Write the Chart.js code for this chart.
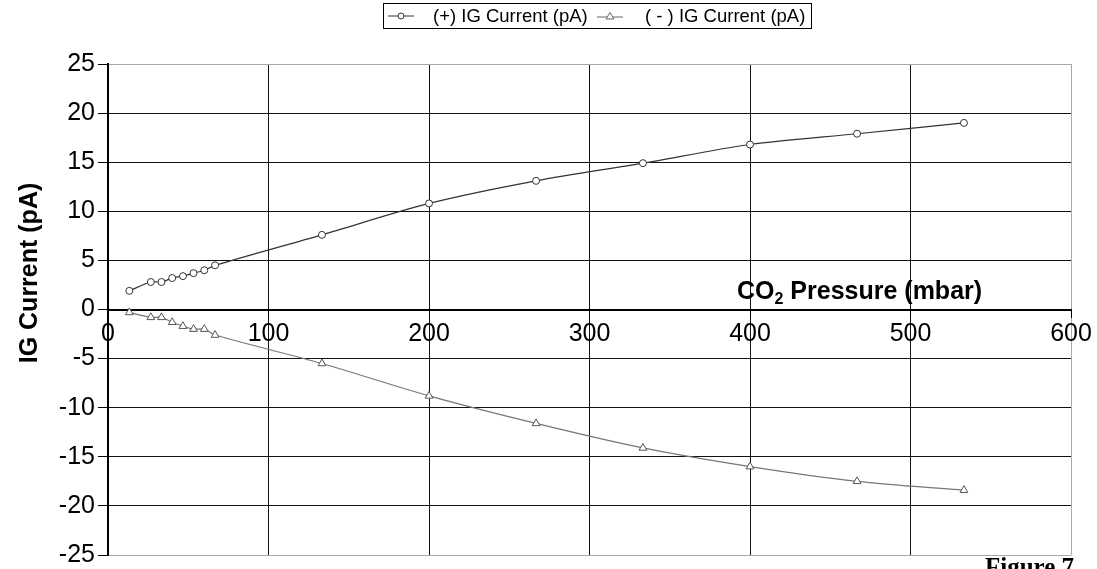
<!DOCTYPE html>
<html>
<head>
<meta charset="utf-8">
<script src="https://cdn.jsdelivr.net/npm/chart.js@4.4.1/dist/chart.umd.min.js"></script>
<style>
  body { margin: 0; background: #fff; }
  #wrap { position: relative; width: 1097px; height: 569px; overflow: hidden; }
  #legend {
    position: absolute; left: 383px; top: 3px; width: 427px; height: 24px;
    border: 1px solid #000; font-family: Arial, "Liberation Sans", sans-serif;
    font-size: 18.5px; line-height: 24px; white-space: nowrap; color: #000;
  }
  #legend span { position: absolute; top: 0; }
  #legend svg { position: absolute; top: 6px; }
</style>
</head>
<body>
<div id="wrap">
  <canvas id="chart" width="1097" height="569"></canvas>
  <div id="legend">
    <svg style="left:4px" width="26" height="12"><line x1="0" y1="6" x2="26" y2="6" stroke="#333" stroke-width="1"/><circle cx="13" cy="6" r="3" fill="#fff" stroke="#333"/></svg>
    <span style="left:49px">(+) IG Current (pA)</span>
    <svg style="left:213px" width="26" height="12"><line x1="0" y1="7" x2="26" y2="7" stroke="#666" stroke-width="1"/><path d="M13 2.5 L17 9 L9 9 Z" fill="#fff" stroke="#666"/></svg>
    <span style="left:261px">( - ) IG Current (pA)</span>
  </div>
</div>
<script>
// CO2 pressure (mbar)
const pressure = [13.3, 26.7, 33.3, 40, 46.7, 53.3, 60, 66.7, 133.3, 200, 266.7, 333.3, 400, 466.7, 533.3];
// ion gauge currents (pA)
const plusCurrent = [1.9, 2.8, 2.8, 3.2, 3.4, 3.7, 4.0, 4.5, 7.6, 10.8, 13.1, 14.9, 16.8, 17.9, 19.0];
const minusCurrent = [-0.3, -0.8, -0.8, -1.3, -1.7, -2.0, -2.0, -2.6, -5.5, -8.8, -11.6, -14.1, -16.0, -17.5, -18.4];

const seriesNames = ["(+) IG Current (pA)", "( - ) IG Current (pA)"];
const yTitle = "IG Current (pA)";
const figureLabel = "Figure 7";

const toPoints = (ys) => pressure.map((x, i) => ({ x: x, y: ys[i] }));

// extra titles drawn on the canvas
const titlesPlugin = {
  id: "titles",
  afterDraw(chart) {
    const ctx = chart.ctx;
    ctx.save();
    ctx.fillStyle = "#000";
    // y axis title
    ctx.translate(30, 273);
    ctx.rotate(-Math.PI / 2);
    ctx.font = "bold 25px Arial, 'Liberation Sans', sans-serif";
    ctx.textAlign = "center";
    ctx.textBaseline = "middle";
    ctx.fillText(yTitle, 0, 0);
    ctx.restore();

    // x axis title with subscript
    ctx.save();
    ctx.fillStyle = "#000";
    ctx.textBaseline = "alphabetic";
    let x = 737;
    const base = 299;
    ctx.font = "bold 25px Arial, 'Liberation Sans', sans-serif";
    ctx.fillText("CO", x, base);
    x += ctx.measureText("CO").width;
    ctx.font = "bold 16px Arial, 'Liberation Sans', sans-serif";
    ctx.fillText("2", x, base + 5);
    x += ctx.measureText("2").width;
    ctx.font = "bold 25px Arial, 'Liberation Sans', sans-serif";
    ctx.fillText(" Pressure (mbar)", x, base);

    // figure label
    ctx.font = "bold 25px 'Times New Roman', 'Liberation Serif', serif";
    ctx.fillText(figureLabel, 985, 575);
    ctx.restore();
  }
};

new Chart(document.getElementById("chart"), {
  type: "line",
  data: {
    datasets: [
      {
        label: seriesNames[0],
        data: toPoints(plusCurrent),
        borderColor: "#333",
        borderWidth: 1.2,
        pointStyle: "circle",
        pointRadius: 3.5,
        pointBackgroundColor: "#fff",
        pointBorderColor: "#333",
        pointBorderWidth: 1,
        tension: 0.3,
      },
      {
        label: seriesNames[1],
        data: toPoints(minusCurrent),
        borderColor: "#777",
        borderWidth: 1.2,
        pointStyle: "triangle",
        pointRadius: 4.5,
        pointBackgroundColor: "#fff",
        pointBorderColor: "#555",
        pointBorderWidth: 1,
        tension: 0.3,
      },
    ],
  },
  options: {
    responsive: false,
    animation: false,
    layout: { padding: { left: 0, top: 64, right: 26, bottom: 14 } },
    plugins: { legend: { display: false }, tooltip: { enabled: false } },
    scales: {
      x: {
        type: "linear",
        position: { y: 0 },
        min: 0,
        max: 600,
        ticks: {
          stepSize: 100,
          color: "#000",
          padding: 3,
          maxRotation: 0,
          font: { family: "Arial, 'Liberation Sans', sans-serif", size: 25 },
        },
        grid: {
          color: (c) => (c.tick && c.tick.value === 600 ? "#a8a8a8" : "#111"),
          lineWidth: 1,
          tickLength: 7,
          tickColor: "#000",
        },
        border: { display: true, color: "#000", width: 2 },
      },
      y: {
        min: -25,
        max: 25,
        afterFit: (scale) => {
          scale.width = 108;
          scale.paddingTop = 0;
          scale.paddingBottom = 0;
        },
        ticks: {
          stepSize: 5,
          color: "#000",
          padding: 3,
          font: { family: "Arial, 'Liberation Sans', sans-serif", size: 25 },
        },
        grid: {
          color: (c) => (c.tick && Math.abs(c.tick.value) === 25 ? "#a8a8a8" : "#111"),
          lineWidth: 1,
          tickLength: 10,
          tickColor: "#000",
        },
        border: { display: true, color: "#000", width: 2 },
      },
    },
  },
  plugins: [titlesPlugin],
});
</script>
</body>
</html>
